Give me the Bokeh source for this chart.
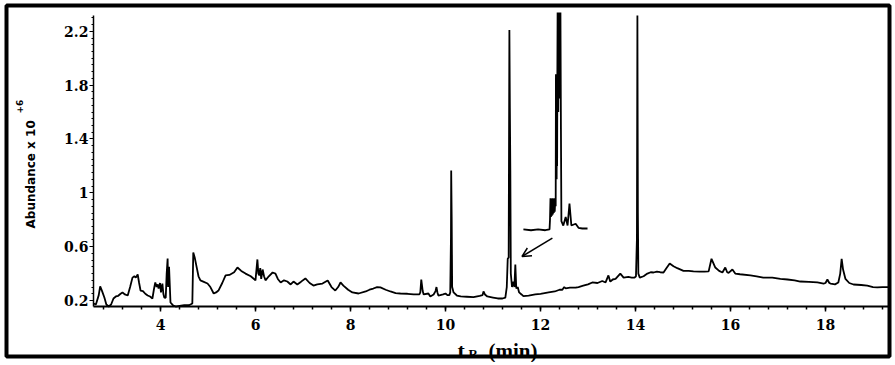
import numpy as np
from bokeh.plotting import figure
from bokeh.models import (Range1d, FixedTicker, NumeralTickFormatter, Label,
                          BoxAnnotation, Arrow, OpenHead)
from bokeh.embed import file_html
from bokeh.resources import INLINE

# ---------------- data (retention time in min, abundance x 10^6) ----------------
t_min = [2.59, 2.64, 2.70, 2.73, 2.77, 2.82, 2.86, 2.91, 2.96, 3.01, 3.06, 3.11, 3.16, 3.20,
         3.25, 3.31, 3.36, 3.41, 3.45, 3.48, 3.52, 3.55, 3.58, 3.63, 3.68, 3.73, 3.78, 3.83,
         3.86, 3.89, 3.92, 3.94, 3.96, 3.99, 4.01, 4.04, 4.06, 4.08, 4.11, 4.13, 4.15, 4.16,
         4.18, 4.21, 4.26, 4.32, 4.40, 4.50, 4.60, 4.67, 4.69, 4.72, 4.76, 4.80, 4.84, 4.90,
         4.99, 5.05, 5.12, 5.17, 5.22, 5.30, 5.37, 5.45, 5.55, 5.62, 5.70, 5.79, 5.90, 6.00,
         6.04, 6.06, 6.08, 6.10, 6.12, 6.15, 6.18, 6.21, 6.28, 6.36, 6.42, 6.47, 6.53, 6.60,
         6.67, 6.74, 6.80, 6.88, 6.96, 7.05, 7.14, 7.22, 7.30, 7.41, 7.52, 7.60, 7.68, 7.74,
         7.79, 7.85, 7.95, 8.04, 8.17, 8.32, 8.40, 8.48, 8.56, 8.63, 8.74, 8.84, 8.95, 9.05,
         9.20, 9.33, 9.45, 9.47, 9.49, 9.52, 9.54, 9.64, 9.68, 9.75, 9.79, 9.81, 9.83, 9.85,
         9.95, 10.00, 10.04, 10.08, 10.10, 10.115, 10.12, 10.13, 10.14, 10.17, 10.24, 10.32,
         10.45, 10.59, 10.72, 10.78, 10.80, 10.83, 10.88, 11.00, 11.10, 11.20, 11.26, 11.29,
         11.31, 11.33, 11.345, 11.355, 11.365, 11.375, 11.40, 11.43, 11.45, 11.47, 11.49,
         11.52, 11.55, 11.60, 11.64, 11.75, 11.89, 12.00, 12.17, 12.30, 12.40, 12.46, 12.50,
         12.53, 12.62, 12.74, 12.80, 12.90, 13.00, 13.09, 13.20, 13.30, 13.37, 13.43, 13.47,
         13.52, 13.58, 13.68, 13.75, 13.85, 13.92, 13.98, 14.01, 14.03, 14.04, 14.05, 14.06,
         14.09, 14.17, 14.25, 14.32, 14.38, 14.45, 14.52, 14.59, 14.65, 14.72, 14.80, 14.88,
         15.01, 15.12, 15.22, 15.35, 15.45, 15.54, 15.60, 15.68, 15.76, 15.83, 15.89, 15.93,
         15.96, 16.04, 16.10, 16.20, 16.42, 16.55, 16.69, 16.88, 17.05, 17.20, 17.35, 17.47,
         17.65, 17.83, 17.96, 18.00, 18.04, 18.08, 18.11, 18.20, 18.27, 18.31, 18.34, 18.37,
         18.42, 18.50, 18.59, 18.75, 18.88, 19.00, 19.09, 19.20, 19.33]
abundance = [0.178, 0.17, 0.24, 0.305, 0.27, 0.22, 0.17, 0.155, 0.17, 0.215, 0.23, 0.235, 0.25, 0.26,
             0.245, 0.237, 0.30, 0.37, 0.38, 0.37, 0.393, 0.33, 0.274, 0.27, 0.25, 0.237, 0.23, 0.215,
             0.28, 0.334, 0.30, 0.32, 0.289, 0.33, 0.26, 0.326, 0.25, 0.222, 0.22, 0.40, 0.512, 0.30,
             0.45, 0.185, 0.165, 0.155, 0.16, 0.165, 0.165, 0.178, 0.557, 0.52, 0.45, 0.38, 0.349, 0.34,
             0.326, 0.30, 0.252, 0.26, 0.274, 0.33, 0.386, 0.39, 0.41, 0.445, 0.42, 0.40, 0.38, 0.35,
             0.505, 0.40, 0.386, 0.44, 0.36, 0.43, 0.38, 0.35, 0.38, 0.408, 0.40, 0.36, 0.334, 0.35,
             0.341, 0.319, 0.341, 0.319, 0.34, 0.364, 0.33, 0.311, 0.32, 0.326, 0.349, 0.30, 0.274, 0.30,
             0.334, 0.311, 0.28, 0.26, 0.252, 0.267, 0.28, 0.289, 0.30, 0.297, 0.28, 0.267, 0.255, 0.252,
             0.25, 0.245, 0.245, 0.26, 0.356, 0.27, 0.245, 0.252, 0.23, 0.245, 0.27, 0.30, 0.26, 0.237,
             0.245, 0.252, 0.24, 0.24, 0.26, 0.67, 1.166, 0.82, 0.30, 0.26, 0.237, 0.23,
             0.228, 0.225, 0.235, 0.24, 0.267, 0.245, 0.23, 0.222, 0.215, 0.215, 0.222, 0.30,
             0.51, 0.52, 2.21, 1.63, 1.16, 0.40, 0.30, 0.34, 0.30, 0.467, 0.29,
             0.30, 0.26, 0.245, 0.232, 0.237, 0.245, 0.25, 0.26, 0.267, 0.28, 0.28, 0.30,
             0.29, 0.295, 0.295, 0.30, 0.31, 0.32, 0.334, 0.33, 0.345, 0.334, 0.386, 0.34,
             0.356, 0.36, 0.40, 0.37, 0.375, 0.37, 0.37, 0.38, 0.66, 2.317, 0.85, 0.40,
             0.37, 0.38, 0.40, 0.41, 0.408, 0.415, 0.41, 0.408, 0.44, 0.475, 0.455, 0.44,
             0.42, 0.42, 0.416, 0.415, 0.415, 0.416, 0.51, 0.445, 0.42, 0.408, 0.445, 0.41,
             0.405, 0.43, 0.40, 0.395, 0.386, 0.38, 0.37, 0.37, 0.36, 0.356, 0.35, 0.341,
             0.338, 0.334, 0.326, 0.33, 0.356, 0.33, 0.326, 0.32, 0.334, 0.40, 0.51, 0.43,
             0.36, 0.33, 0.319, 0.315, 0.311, 0.30, 0.297, 0.30, 0.30]

# enlarged view of the 11.3 min region, drawn as an inset in the host axes
inset_t = [11.64, 11.80, 11.95, 12.10, 12.19, 12.20, 12.21, 12.22, 12.23, 12.24, 12.25, 12.26,
           12.27, 12.28, 12.29, 12.30, 12.31, 12.32, 12.325, 12.33, 12.335, 12.34, 12.345, 12.35,
           12.355, 12.36, 12.365, 12.37, 12.375, 12.38, 12.385, 12.39, 12.395, 12.40, 12.405,
           12.41, 12.415, 12.42, 12.43, 12.44, 12.48, 12.53, 12.57, 12.61, 12.65, 12.74, 12.80,
           12.88, 12.99]
inset_a = [0.728, 0.722, 0.728, 0.722, 0.728, 0.80, 0.96, 0.82, 0.95, 0.83, 0.96, 0.84,
           0.95, 0.85, 0.96, 0.86, 0.95, 0.90, 1.88, 1.10, 1.88, 1.10, 1.88, 1.20,
           1.88, 2.34, 1.60, 2.34, 1.60, 2.34, 1.70, 2.34, 1.70, 2.34, 1.80,
           2.34, 1.80, 2.34, 1.48, 0.79, 0.757, 0.82, 0.757, 0.92, 0.757, 0.77, 0.74,
           0.735, 0.735]

x_ticks = [4, 6, 8, 10, 12, 14, 16, 18]
y_ticks = [0.2, 0.6, 1.0, 1.4, 1.8, 2.2]

# ---------------- layout constants (pixels) ----------------
W, H = 893, 362
PX_PER_MIN = 47.5          # x scale
PX_PER_UNIT = 134.6        # y scale
X0_PX, X0_VAL = 160, 4.0   # pixel of x = 4
Y0_PX, Y0_VAL = 300, 0.2   # pixel of y = 0.2
xr = (X0_VAL - X0_PX / PX_PER_MIN, X0_VAL + (W - X0_PX) / PX_PER_MIN)
yr = (Y0_VAL - (H - Y0_PX) / PX_PER_UNIT, Y0_VAL + Y0_PX / PX_PER_UNIT)
X_AX = (2.589, 19.33)      # extent of the x axis
Y_AX = (0.155, 2.32)       # extent of the y axis

p = figure(width=W, height=H, output_backend="svg", toolbar_location=None,
           x_range=Range1d(*xr), y_range=Range1d(*yr),
           min_border=0, background_fill_color="white", border_fill_color="white")
p.outline_line_color = None
p.xgrid.visible = False
p.ygrid.visible = False

# axes, drawn at fixed places inside the (full-canvas) frame
p.xaxis.fixed_location = Y_AX[0]
p.yaxis.fixed_location = X_AX[0]
p.xaxis.bounds = X_AX
p.yaxis.bounds = Y_AX
p.xaxis.ticker = FixedTicker(ticks=x_ticks, minor_ticks=list(np.round(np.arange(2.8, 19.4, 0.4), 2)))
p.yaxis.ticker = FixedTicker(ticks=y_ticks, minor_ticks=list(np.round(np.arange(0.2, 2.33, 0.05), 2)))
p.yaxis.formatter = NumeralTickFormatter(format="0.[0]")
for ax in (p.xaxis, p.yaxis):
    ax.axis_line_color = "black"
    ax.major_tick_line_color = "black"
    ax.minor_tick_line_color = "black"
    ax.major_label_text_font = "DejaVu Serif"
    ax.major_label_text_font_style = "bold"
    ax.major_label_text_font_size = "14px"
    ax.major_label_text_color = "black"
    ax.major_tick_in = 0
    ax.minor_tick_in = 0
p.xaxis.axis_line_width = 2
p.yaxis.axis_line_width = 1.5
p.xaxis.major_tick_out = 5
p.xaxis.minor_tick_out = 3
p.xaxis.major_tick_line_width = 1.5
p.xaxis.minor_tick_line_width = 1.5
p.xaxis.major_label_standoff = 7
p.yaxis.major_tick_out = 4
p.yaxis.minor_tick_out = 2
p.yaxis.major_label_standoff = 1

# traces
p.line(t_min, abundance, line_color="black", line_width=1.8)
p.line(inset_t, inset_a, line_color="black", line_width=1.8)

p.add_layout(Arrow(end=OpenHead(size=9, line_width=1.5, line_color="black"),
                   x_start=12.25, y_start=0.663, x_end=11.61, y_end=0.527,
                   line_width=1.5, line_color="black"))

# outer frame
p.add_layout(BoxAnnotation(left=6, right=889, top=H - 5, bottom=H - 356,
                           left_units="screen", right_units="screen",
                           top_units="screen", bottom_units="screen",
                           fill_alpha=0, line_color="black", line_width=4, line_alpha=1))

# axis titles
def lab(x, y, text, size, font, **kw):
    p.add_layout(Label(x=x, y=H - y, x_units="screen", y_units="screen", text=text,
                       text_font=font, text_font_style="bold", text_font_size=size,
                       text_color="black", **kw))

lab(30, 228, "Abundance x 10", "12px", "DejaVu Sans", angle=np.pi / 2,
    text_align="left", text_baseline="middle")
lab(19, 113, "+6", "9px", "DejaVu Sans", angle=np.pi / 2,
    text_align="left", text_baseline="middle")
lab(457, 350, "t", "22px", "Liberation Serif", text_align="left", text_baseline="alphabetic")
lab(468, 353, "R", "13px", "Liberation Serif", text_align="left", text_baseline="alphabetic")
lab(488, 350, "(min)", "21px", "Liberation Serif", text_align="left", text_baseline="alphabetic")

open("out.html", "w").write(file_html(p, INLINE))
